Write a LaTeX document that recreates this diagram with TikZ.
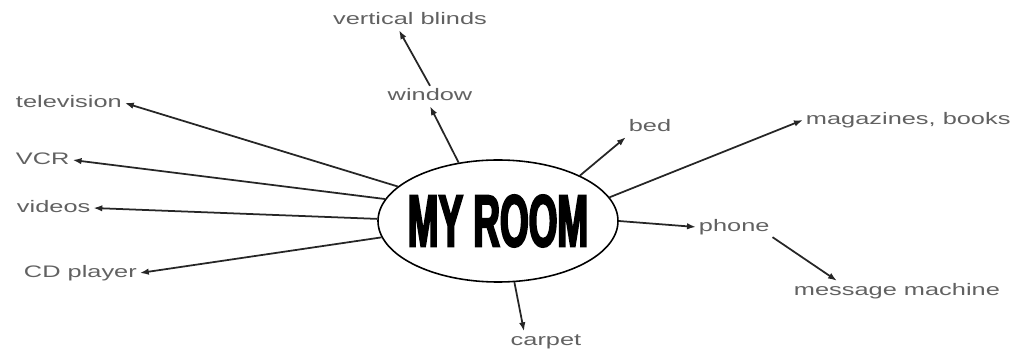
\documentclass[tikz,border=0pt]{standalone}
\usepackage{fontspec}
\usetikzlibrary{arrows.meta,shapes.geometric}
\newfontfamily\lblfont[FakeStretch=1.52]{Liberation Sans}
\newfontfamily\ttlfont[FakeStretch=0.5,FakeBold=2.5]{Liberation Sans}
\begin{document}
\begin{tikzpicture}[>={Latex[length=1.8mm,width=1.3mm]},
    lbl/.style={font=\lblfont\fontsize{9.5}{11}\selectfont, text=black!62, inner sep=1.5pt, text height=1.5ex, text depth=.4ex},
    hub/.style={draw, ellipse, line width=0.9pt, minimum width=4.8cm, minimum height=2.44cm, inner sep=0pt},
    ttl/.style={font=\ttlfont\bfseries\fontsize{42}{42}\selectfont, inner sep=0pt},
    lnk/.style={->, line width=1pt, black!85}]
  \useasboundingbox (0,0) rectangle (20.46,7.1);
  \node[hub] (room) at (9.96,2.68) {};
  \node[ttl] (title) at (room.center) {MY ROOM};
  \node[lbl] (blinds) at (8.2,6.7) {vertical blinds};
  \node[lbl] (window) at (8.6,5.18) {window};
  \node[lbl, anchor=west] (tv) at (0.26,5.04) {television};
  \node[lbl, anchor=west] (vcr) at (0.26,3.9) {VCR};
  \node[lbl, anchor=west] (videos) at (0.28,2.94) {videos};
  \node[lbl, anchor=west] (cd) at (0.42,1.64) {CD player};
  \node[lbl] (carpet) at (10.92,0.27) {carpet};
  \node[lbl, anchor=west] (phone) at (13.92,2.56) {phone};
  \node[lbl, anchor=west] (msg) at (15.82,1.28) {message machine};
  \node[lbl, anchor=west] (mags) at (16.06,4.7) {magazines, books};
  \node[lbl] (bed) at (13.0,4.56) {bed};
  \draw[lnk] (room.124) -- (window.south);
  \draw[lnk] (window.north) -- ([xshift=-0.22cm]blinds.south);
  \draw[lnk] (room.161) -- (tv.east);
  \draw[lnk] (room.169.6) -- (vcr.east);
  \draw[lnk] (room.179) -- (videos.east);
  \draw[lnk] (room.188.2) -- (cd.east);
  \draw[lnk] (room.285.3) -- ([xshift=-0.44cm]carpet.north);
  \draw[lnk] (room.0) -- (phone.west);
  \draw[lnk] (phone.south east) -- ([xshift=-1.2cm]msg.north);
  \draw[lnk] (room.12.2) -- (mags.west);
  \draw[lnk] (room.29.3) -- (bed.south west);
\end{tikzpicture}
\end{document}
